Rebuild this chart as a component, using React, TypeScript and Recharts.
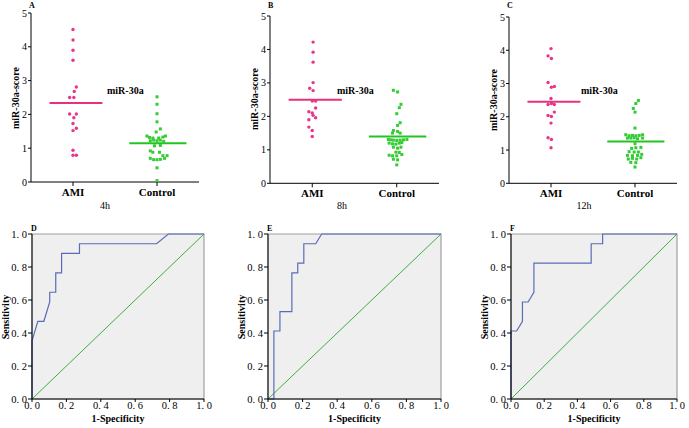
import React from 'react';
import { ScatterChart, Scatter, XAxis, YAxis, ReferenceLine, LineChart, Line, ReferenceArea } from 'recharts';

// top row: miR-30a scores at 4h / 8h / 12h
const groups = ['AMI', 'Control'];
const scoreTicks = [0, 1, 2, 3, 4, 5];

const amiA = [4.51, 4.2, 3.9, 3.6, 2.81, 2.68, 2.5, 2.5, 2.01, 2.01, 1.9, 1.73, 1.59, 1.52, 0.94, 0.79, 0.79];
const amiAOff = [0, 0, 0, 0, 0.04, 0.015, -0.04, 0.01, -0.04, 0.04, 0.01, 0, 0.04, 0, 0, 0, 0.04];
const ctrlA = [2.52, 2.3, 2.02, 1.78, 1.57, 1.48, 1.36, 1.32, 1.3, 1.3, 1.33, 1.36, 1.22, 1.24, 1.22, 1.24, 1.2, 1.07, 1.08, 0.92, 0.88, 0.88, 0.78, 0.78, 0.7, 0.66, 0.66, 0.67, 0.7, 0.42, 0.04];
const ctrlAOff = [0, 0, 0, 0, 0.04, -0.01, -0.12, -0.09, -0.05, 0.02, 0.07, 0.1, -0.08, -0.04, 0, 0.04, 0.08, -0.03, 0.04, -0.08, -0.05, 0.03, 0.07, 0.12, -0.08, -0.04, 0, 0.04, 0.09, 0, 0];
const meanA = [2.34, 1.15];

const amiB = [4.22, 3.92, 3.62, 3.01, 2.84, 2.77, 2.46, 2.46, 2.25, 2.14, 2.1, 2.03, 1.96, 1.9, 1.68, 1.58, 1.4];
const amiBOff = [0.01, 0.01, 0.01, 0.01, -0.03, 0.01, 0, 0.04, 0.04, -0.04, 0, 0.01, 0.04, -0.04, -0.04, 0, 0];
const ctrlB = [2.78, 2.73, 2.36, 2.26, 2.08, 1.81, 1.73, 1.58, 1.55, 1.5, 1.5, 1.31, 1.3, 1.29, 1.28, 1.29, 1.3, 1.31, 1.2, 1.18, 1.17, 1.2, 1.22, 1.08, 1.05, 1.08, 0.93, 0.92, 0.84, 0.82, 0.82, 0.86, 0.72, 0.7, 0.55];
const ctrlBOff = [-0.04, 0.01, 0.05, 0.03, 0, 0.04, 0.01, -0.04, 0.01, -0.05, 0.04, -0.1, -0.07, -0.04, 0, 0.04, 0.08, 0.12, -0.09, -0.05, -0.01, 0.03, 0.06, -0.04, 0.01, 0.05, -0.01, 0.03, -0.09, -0.05, 0, 0.06, -0.04, 0.01, 0];
const meanB = [2.5, 1.4];

const amiC = [4.05, 3.83, 3.75, 3.03, 2.89, 2.91, 2.55, 2.37, 2.4, 2.37, 2.14, 2.04, 2.01, 1.81, 1.37, 1.32, 1.07];
const amiCOff = [0, -0.035, 0.005, -0.035, 0.005, 0.04, 0, -0.035, 0.005, 0.04, 0.04, -0.035, 0.005, 0, -0.035, 0.005, 0];
const ctrlC = [2.49, 2.4, 2.25, 2.14, 1.66, 1.46, 1.43, 1.44, 1.43, 1.44, 1.46, 1.36, 1.36, 1.37, 1.34, 1.36, 1.19, 1.05, 1.07, 1.08, 0.95, 0.94, 0.94, 0.84, 0.83, 0.84, 0.87, 0.73, 0.75, 0.73, 0.77, 0.63, 0.62, 0.49];
const ctrlCOff = [0.04, 0.01, -0.02, 0, 0, -0.11, -0.07, -0.03, 0.01, 0.05, 0.09, -0.09, -0.05, -0.01, 0.03, 0.09, 0, -0.04, 0.01, 0.07, -0.07, -0.01, 0.04, -0.09, -0.03, 0.03, 0.08, -0.08, -0.03, 0.02, 0.07, -0.05, 0.01, 0];
const meanC = [2.45, 1.26];

// bottom row: ROC curves (1-specificity, sensitivity)
const rocTicks = [0, 0.2, 0.4, 0.6, 0.8, 1];
const rocDFpr = [0, 0, 0.034, 0.069, 0.103, 0.103, 0.138, 0.138, 0.172, 0.172, 0.276, 0.276, 0.724, 0.793, 1];
const rocDTpr = [0, 0.353, 0.471, 0.471, 0.588, 0.647, 0.647, 0.765, 0.765, 0.882, 0.882, 0.941, 0.941, 1, 1];
const rocEFpr = [0, 0.034, 0.034, 0.069, 0.069, 0.138, 0.138, 0.172, 0.172, 0.207, 0.207, 0.276, 0.31, 1];
const rocETpr = [0, 0, 0.412, 0.412, 0.529, 0.529, 0.765, 0.765, 0.824, 0.824, 0.941, 0.941, 1, 1];
const rocFFpr = [0, 0, 0.034, 0.069, 0.069, 0.103, 0.138, 0.138, 0.483, 0.483, 0.552, 0.552, 1];
const rocFTpr = [0, 0.412, 0.412, 0.471, 0.588, 0.588, 0.647, 0.824, 0.824, 0.941, 0.941, 1, 1];
const refFpr = [0, 1];
const refTpr = [0, 1];

const SERIF = '"Liberation Serif", "Times New Roman", serif';
const PINK = '#e8358a';
const PINK_LINE = '#e8307c';
const GREEN = '#33cc33';
const GREEN_LINE = '#22c422';

const pinkDot = (p: any) => <circle cx={p.cx} cy={p.cy} r={1.7} fill={PINK} />;
const greenDot = (p: any) => <rect x={p.cx - 1.5} y={p.cy - 1.5} width={3} height={3} fill={GREEN} />;

const abs = (left: number, top: number, extra: React.CSSProperties = {}): React.CSSProperties => ({
  position: 'absolute', left, top, fontFamily: SERIF, color: '#000', whiteSpace: 'nowrap', lineHeight: 1, ...extra,
});

const ScorePanel = ({ pl, pr, pt, pb, ami, amiOff, ctrl, ctrlOff, mean, letter, caption, capX, labelX }: any) => {
  const w = pr - pl;
  const h = pb - pt;
  const amiData = ami.map((v: number, i: number) => ({ x: 1 + amiOff[i], y: v }));
  const ctrlData = ctrl.map((v: number, i: number) => ({ x: 2 + ctrlOff[i], y: v }));
  return (
    <>
      <div style={{ position: 'absolute', left: pl - 30, top: pt - 12 }}>
        <ScatterChart width={w + 45} height={h + 42} margin={{ top: 12, right: 15, bottom: 0, left: 0 }}>
          <XAxis
            type="number" dataKey="x" domain={[0.5, 2.5]} ticks={[1, 2]}
            tickFormatter={(v: number) => groups[v - 1]}
            height={30} tickSize={4} stroke="#000"
            tick={{ fill: '#000', fontSize: 11, fontWeight: 'bold', fontFamily: SERIF }}
          />
          <YAxis
            type="number" dataKey="y" domain={[0, 5]} ticks={scoreTicks}
            width={30} tickSize={3} tickMargin={1} stroke="#000"
            tick={{ fill: '#000', fontSize: 10, fontFamily: SERIF }}
          />
          <Scatter data={amiData} shape={pinkDot} isAnimationActive={false} />
          <Scatter data={ctrlData} shape={greenDot} isAnimationActive={false} />
          <ReferenceLine segment={[{ x: 0.72, y: mean[0] }, { x: 1.35, y: mean[0] }]} stroke={PINK_LINE} strokeWidth={2} />
          <ReferenceLine segment={[{ x: 1.67, y: mean[1] }, { x: 2.35, y: mean[1] }]} stroke={GREEN_LINE} strokeWidth={2} />
        </ScatterChart>
      </div>
      <div style={abs(pl - 2, 2, { fontSize: 8, fontWeight: 'bold' })}>{letter}</div>
      <div style={abs(labelX, 86, { fontSize: 10, fontWeight: 'bold' })}>miR-30a</div>
      <div style={abs(capX, 201, { fontSize: 10, transform: 'translateX(-50%)' })}>{caption}</div>
      <div style={abs(pl - 15, (pt + pb) / 2, { fontSize: 10, fontWeight: 'bold', transform: 'translate(-50%, -50%) rotate(-90deg)' })}>miR-30a-score</div>
    </>
  );
};

const fmt = (v: number) => v.toFixed(1).replace('.', '. ');

const RocPanel = ({ pl, pr, pt, pb, fpr, tpr, letter, sensX }: any) => {
  const w = pr - pl;
  const h = pb - pt;
  const curve = fpr.map((x: number, i: number) => ({ x, y: tpr[i] }));
  const diag = refFpr.map((x: number, i: number) => ({ x, y: refTpr[i] }));
  return (
    <>
      <div style={{ position: 'absolute', left: pl - 34, top: pt - 6 }}>
        <LineChart width={w + 34 + 14} height={h + 6 + 20} margin={{ top: 6, right: 14, bottom: 0, left: 0 }}>
          <ReferenceArea x1={0} x2={1} y1={0} y2={1} fill="#efefef" fillOpacity={1} stroke="#a0a0a0" strokeWidth={1.2} />
          <XAxis
            type="number" dataKey="x" domain={[0, 1]} ticks={rocTicks} tickFormatter={fmt}
            height={20} tickSize={3} tickMargin={0} stroke="#000"
            tick={{ fill: '#000', fontSize: 10.5, fontFamily: SERIF }}
          />
          <YAxis
            type="number" dataKey="y" domain={[0, 1]} ticks={rocTicks} tickFormatter={fmt}
            width={34} tickSize={4} tickMargin={1} stroke="#000"
            tick={{ fill: '#000', fontSize: 10.5, fontFamily: SERIF }}
          />
          <Line data={diag} dataKey="y" type="linear" stroke="#3fae3f" strokeWidth={1} dot={false} isAnimationActive={false} />
          <Line data={curve} dataKey="y" type="linear" stroke="#5a6cb8" strokeWidth={1.2} dot={false} isAnimationActive={false} />
        </LineChart>
      </div>
      <div style={abs(pl - 1, pt - 9, { fontSize: 8, fontWeight: 'bold' })}>{letter}</div>
      <div style={abs((pl + pr) / 2, 414, { fontSize: 10, fontWeight: 'bold', transform: 'translateX(-50%)' })}>1-Specificity</div>
      <div style={abs(sensX, (pt + pb) / 2, { fontSize: 10, fontWeight: 'bold', transform: 'translate(-50%, -50%) rotate(-90deg)' })}>Sensitivity</div>
    </>
  );
};

export default function App() {
  return (
    <div style={{ position: 'absolute', left: 0, top: 0, width: 689, height: 428, background: '#fff', overflow: 'hidden' }}>
      <ScorePanel pl={31} pr={199} pt={13.3} pb={182.3} ami={amiA} amiOff={amiAOff} ctrl={ctrlA} ctrlOff={ctrlAOff} mean={meanA} letter="A" caption="4h" capX={105} labelX={107} />
      <ScorePanel pl={270} pr={439} pt={15.7} pb={183} ami={amiB} amiOff={amiBOff} ctrl={ctrlB} ctrlOff={ctrlBOff} mean={meanB} letter="B" caption="8h" capX={342} labelX={337} />
      <ScorePanel pl={509} pr={677} pt={16.7} pb={183} ami={amiC} amiOff={amiCOff} ctrl={ctrlC} ctrlOff={ctrlCOff} mean={meanC} letter="C" caption="12h" capX={584} labelX={581} />
      <RocPanel pl={32} pr={204} pt={234} pb={399} fpr={rocDFpr} tpr={rocDTpr} letter="D" sensX={6} />
      <RocPanel pl={268} pr={441} pt={234} pb={399} fpr={rocEFpr} tpr={rocETpr} letter="E" sensX={242} />
      <RocPanel pl={511} pr={677} pt={234} pb={399} fpr={rocFFpr} tpr={rocFTpr} letter="F" sensX={485} />
    </div>
  );
}
